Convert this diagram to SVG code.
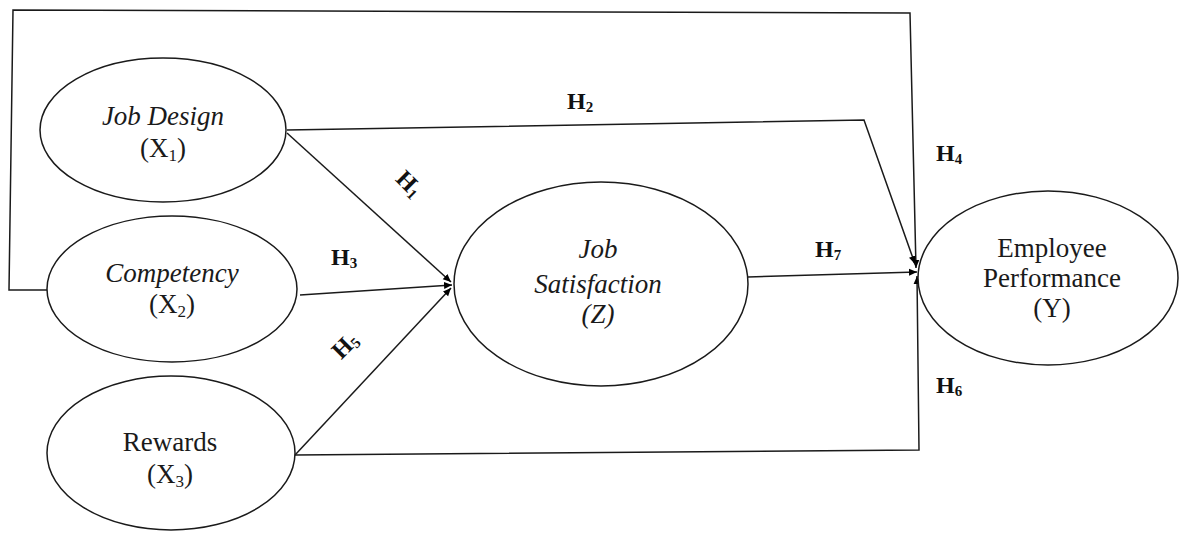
<svg xmlns="http://www.w3.org/2000/svg" width="1179" height="533" viewBox="0 0 1179 533">
<style>
.n{fill:#fff;stroke:#1a1a1a;stroke-width:1.5}
.c{fill:none;stroke:#1a1a1a;stroke-width:1.5}
.t{font-family:"Liberation Serif","Times New Roman",serif;font-size:27px;fill:#1a1a1a;text-anchor:middle}
.i{font-style:italic}
.h{font-family:"Liberation Serif","Times New Roman",serif;font-size:24px;font-weight:bold;fill:#111}
.s{font-size:17px}
.hs{font-size:15px}
</style>
<defs>
<marker id="ah" markerUnits="userSpaceOnUse" markerWidth="10" markerHeight="10" refX="8" refY="5" orient="auto">
<path d="M0,1.5 L8,5 L0,8.5 Z" fill="#000"/>
</marker>
</defs>
<rect width="1179" height="533" fill="#fff"/>
<g id="connectors">
<polyline class="c" points="47,290 9,290 13,10 910,13 916,268" marker-end="url(#ah)"/>
<polyline class="c" points="287,130 864,120 915,264" marker-end="url(#ah)"/>
<line class="c" x1="287" y1="133" x2="451" y2="282" marker-end="url(#ah)"/>
<line class="c" x1="300" y1="295" x2="452" y2="285" marker-end="url(#ah)"/>
<line class="c" x1="295" y1="455" x2="451" y2="288" marker-end="url(#ah)"/>
<line class="c" x1="748" y1="277" x2="917" y2="272" marker-end="url(#ah)"/>
<polyline class="c" points="295,455 919,450 917,276" marker-end="url(#ah)"/>
</g>
<g id="labels">
<text class="h" x="567" y="109">H<tspan class="hs" dy="3">2</tspan></text>
<text class="h" transform="rotate(45 408 182)" x="397" y="190">H<tspan class="hs" dy="3">1</tspan></text>
<text class="h" x="331" y="265">H<tspan class="hs" dy="3">3</tspan></text>
<text class="h" transform="rotate(-45 344 346)" x="332" y="354">H<tspan class="hs" dy="3">5</tspan></text>
<text class="h" x="815" y="257">H<tspan class="hs" dy="3">7</tspan></text>
<text class="h" x="936" y="161">H<tspan class="hs" dy="3">4</tspan></text>
<text class="h" x="936" y="393">H<tspan class="hs" dy="3">6</tspan></text>
</g>
<g id="job-design">
<ellipse class="n" cx="163" cy="130" rx="123" ry="72"/>
<text class="t i" x="163" y="125">Job Design</text>
<text class="t" x="163" y="157">(X<tspan class="s" dy="4">1</tspan><tspan dy="-4">)</tspan></text>
</g>
<g id="competency">
<ellipse class="n" cx="172" cy="289" rx="125" ry="73"/>
<text class="t i" x="172" y="282">Competency</text>
<text class="t" x="172" y="313">(X<tspan class="s" dy="4">2</tspan><tspan dy="-4">)</tspan></text>
</g>
<g id="rewards">
<ellipse class="n" cx="171" cy="453" rx="124" ry="77"/>
<text class="t" x="170" y="451">Rewards</text>
<text class="t" x="170" y="483">(X<tspan class="s" dy="4">3</tspan><tspan dy="-4">)</tspan></text>
</g>
<g id="job-satisfaction">
<ellipse class="n" cx="601" cy="284" rx="147" ry="102"/>
<text class="t i" x="598" y="258">Job</text>
<text class="t i" x="598" y="293">Satisfaction</text>
<text class="t i" x="598" y="323">(Z)</text>
</g>
<g id="employee-performance">
<ellipse class="n" cx="1048" cy="278" rx="130" ry="87"/>
<text class="t" x="1052" y="257">Employee</text>
<text class="t" x="1052" y="287">Performance</text>
<text class="t" x="1052" y="317">(Y)</text>
</g>
</svg>
